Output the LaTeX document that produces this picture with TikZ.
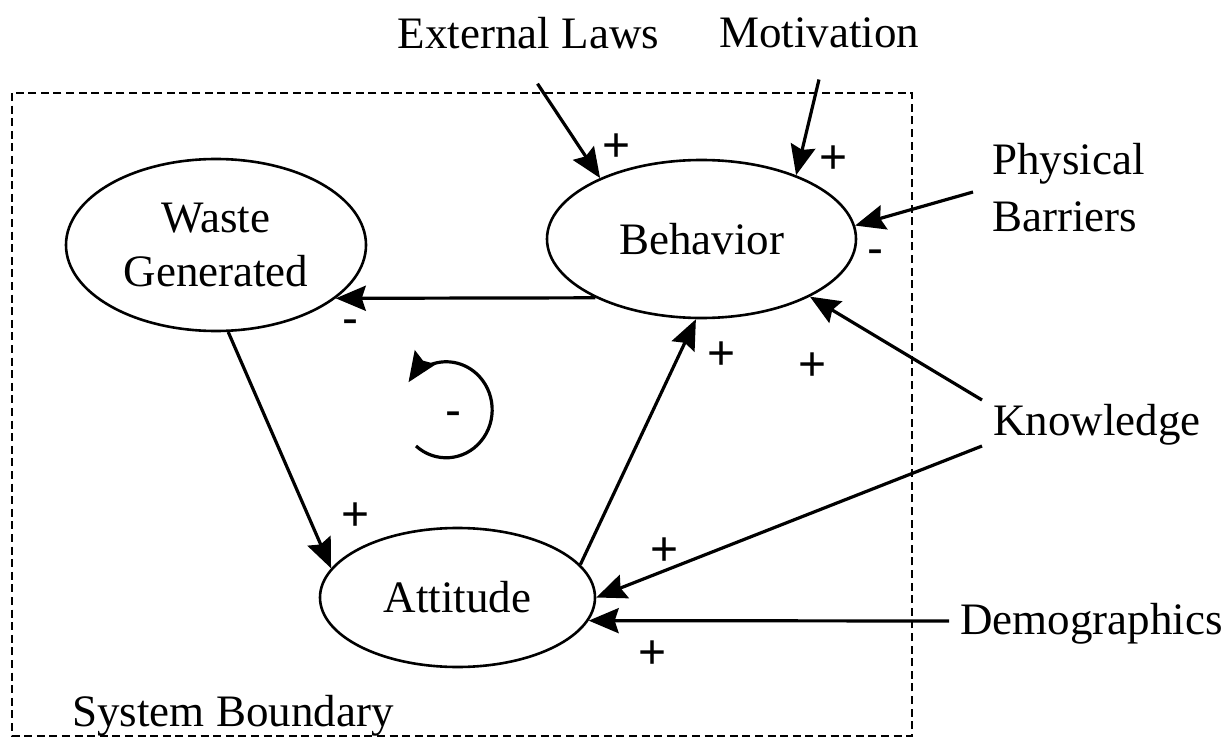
\documentclass[tikz,border=0pt]{standalone}
\usepackage{fontspec}
\setmainfont{Liberation Serif}
\newfontfamily\signfont{Liberation Sans}
\usetikzlibrary{arrows.meta,shapes.geometric}
\begin{document}
\begin{tikzpicture}[x=0.5pt,y=-0.5pt,
  every node/.style={font=\fontsize{22.5}{27}\selectfont},
  oval/.style={ellipse,draw,line width=1.3pt,inner sep=0pt,align=center},
  lbl/.style={inner sep=5.5pt},
  sgn/.style={font=\signfont\fontsize{24}{28}\selectfont,inner sep=0pt},
  arr/.style={line width=1.6pt,-{Stealth[length=15pt,width=12.5pt,inset=2pt]}},
  bound/.style={line width=1.2pt,dash pattern=on 4pt off 2.3pt}]
\useasboundingbox (0,0) rectangle (1232,738);
% system boundary
\draw[bound] (12,93) rectangle (912,736);
% main variables
\node[oval,minimum width=150pt,minimum height=86pt] (waste) at (216,245) {Waste\\Generated};
\node[oval,minimum width=154.5pt,minimum height=79pt] (behavior) at (701.5,239) {Behavior};
\node[oval,minimum width=137.5pt,minimum height=69.5pt] (attitude) at (457.5,597.5) {Attitude};
% external factors
\node[lbl] (extlaws) at (528.5,33) {External Laws};
\node[lbl] (motivation) at (819,33) {Motivation};
\node[lbl,anchor=west,align=left,font=\fontsize{22.5}{28.5}\selectfont] (physical) at (981,188) {Physical\\Barriers};
\node[lbl,anchor=west] (knowledge) at (982,425) {Knowledge};
\node[lbl,anchor=west] (demographics) at (949,624) {Demographics};
\node[lbl,anchor=west] (sysbound) at (61,716) {System Boundary};
% connectors
\draw[arr] ([xshift=4.5pt,yshift=-11.75pt]extlaws.south) -- (behavior.149);
\draw[arr] ([yshift=-10pt]motivation.south) -- (behavior.34);
\draw[arr] ([xshift=-4pt,yshift=-2pt]physical.west) -- (behavior.5);
\draw[arr] (behavior.209) -- (waste.336);
\draw[arr] (waste.278) -- (attitude.167);
\draw[arr] (attitude.15) -- (behavior.266);
\draw[arr] ([yshift=12.5pt]knowledge.west) -- (behavior.332);
\draw[arr] ([yshift=-10.5pt]knowledge.west) -- (attitude.east);
\draw[arr] ([yshift=1.5pt]demographics.west) -- (attitude.350);
% feedback loop
\coordinate (loopstart) at (416,446);
\draw[arr] (loopstart) arc[start angle=131, end angle=-145, x radius=46, y radius=48];
% polarity signs
\node[sgn] (s1) at (617,148) {+};
\node[sgn] (s2) at (834,160) {+};
\node[sgn] (s3) at (875,257) {-};
\node[sgn] (s4) at (350,327) {-};
\node[sgn] (s5) at (722,356) {+};
\node[sgn] (s6) at (813,367) {+};
\node[sgn] (s7) at (356,517) {+};
\node[sgn] (s8) at (665,552) {+};
\node[sgn] (s9) at (653,655) {+};
\node[sgn] (s10) at (453,419) {-};
\end{tikzpicture}
\end{document}
